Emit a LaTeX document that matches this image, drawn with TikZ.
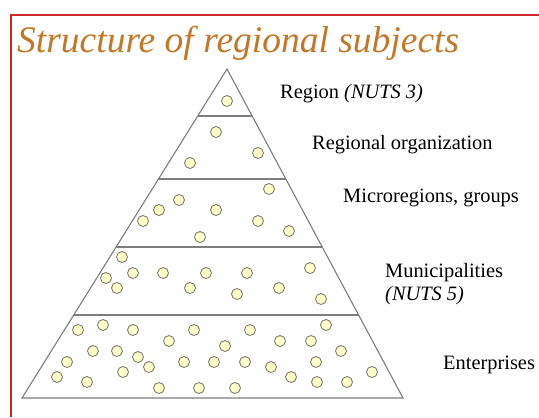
\documentclass[tikz,border=0pt]{standalone}
\usepackage{fontspec}
\setmainfont{Liberation Serif}
\usetikzlibrary{calc}
\definecolor{framered}{RGB}{208,40,40}
\definecolor{titlebrown}{RGB}{194,120,40}
\definecolor{subjfill}{RGB}{255,255,204}
\definecolor{subjline}{RGB}{115,115,95}
\definecolor{pyrgray}{RGB}{125,125,125}

\begin{document}
\begin{tikzpicture}[x=1bp, y=-1bp,
    pyrline/.style={draw=pyrgray, line width=1.1bp},
    subject/.style={fill=subjfill, draw=subjline, line width=0.8bp},
    level/.style={anchor=base west, inner sep=0pt, font=\fontsize{20.4bp}{23bp}\selectfont}]
  \useasboundingbox (0,0) rectangle (539,417);
  \draw[framered, line width=2bp] (11,417) -- (11,15) -- (539,15);
  \node[anchor=base west, inner sep=0pt, text=titlebrown,
        font=\fontsize{37.5bp}{40bp}\selectfont\itshape] (title) at (17,52) {Structure of regional subjects};
  % pyramid
  \coordinate (apex) at (227,69);
  \coordinate (baseL) at (22,398);
  \coordinate (baseR) at (403,398);
  \draw[pyrline] (baseL) -- (apex) -- (baseR) -- cycle;
  \newcommand{\levelline}[1]
  {%
    \draw[pyrline] ($(apex)!#1!(baseL)$) -- ($(apex)!#1!(baseR)$);%
  }%
  \levelline{0.1429}
  \levelline{0.3343}
  \levelline{0.5410}
  \levelline{0.7477}
  % subjects
  \newcommand{\subjects}[1]
  {%
    \foreach \p in {#1} \draw[subject] \p circle[radius=5.5];%
  }%
  \subjects{(227,101)}
  \subjects{(216,132), (258,153), (190,163)}
  \subjects{(269,189), (179,200), (159,210), (216,210), (143,221), (258,221), (289,231), (200,237)}
  \subjects{(122,257), (310,268), (106,278), (133,273), (163,273), (206,273), (247,273),
            (117,288), (190,288), (279,288), (237,294), (321,299)}
  \subjects{(103,325), (326,325), (78,330), (133,330), (194,330), (250,330), (169,341), (280,341),
            (311,341), (225,346), (93,351), (117,351), (341,351), (138,357), (67,362), (184,362),
            (214,362), (245,362), (316,362), (149,367), (271,367), (123,372), (372,372), (57,377),
            (291,377), (87,382), (317,382), (347,382), (159,388), (199,388), (235,388)}
  % levels
  \node[level] (region) at (280,98) {Region \textit{(NUTS 3)}};
  \node[level] (regorg) at (312,149) {Regional organization};
  \node[level] (micro) at (343,202) {Microregions, groups};
  \node[level] (munic) at (385,277) {Municipalities};
  \node[level] (nuts5) at (385,300) {\textit{(NUTS 5)}};
  \node[level] (enterp) at (443,369) {Enterprises};
\end{tikzpicture}
\end{document}
